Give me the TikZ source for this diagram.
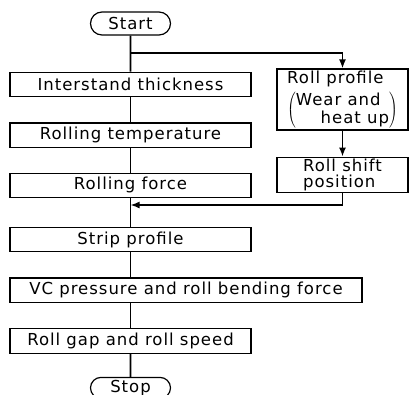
\documentclass[tikz,border=0pt]{standalone}
\usepackage{fontspec}
\setmainfont{DejaVu Sans}[LetterSpace=6]
\usepackage{tikz}
\usetikzlibrary{arrows.meta,positioning,shapes.misc}

\begin{document}
\begin{tikzpicture}[
  stepbox/.style={draw, line width=1.2pt, minimum width=241pt, minimum height=24.5pt, inner sep=0pt, font=\fontsize{16.5}{19}\selectfont},
  endbox/.style={draw, line width=1.2pt, rounded rectangle, minimum width=80pt, minimum height=23pt, inner sep=0pt, font=\fontsize{16.5}{19}\selectfont},
  sidebox/.style={draw, line width=1.2pt, minimum width=131pt, align=left, inner sep=1.5pt, font=\fontsize{16.5}{16.5}\selectfont},
  flow/.style={line width=1.6pt},
  arrow/.style={flow, -{Latex[length=9pt,width=7pt]}},
]
\useasboundingbox (0,0) rectangle (410pt,-394pt);

% main column
\node[endbox] (start) at (130.5pt,-23.5pt) {Start};
\node[stepbox, below=36pt of start] (thick) {Interstand thickness};
\node[stepbox, below=25pt of thick] (temp) {Rolling temperature};
\node[stepbox, below=24.5pt of temp] (force) {Rolling force};
\node[stepbox, below=28.5pt of force] (strip) {Strip profile};
\node[stepbox, minimum width=352pt, below=25pt of strip.south west, anchor=north west] (vc) {VC pressure and roll bending force};
\node[stepbox, below=25pt of vc.south west, anchor=north west] (gap) {Roll gap and roll speed};
\node[endbox, minimum height=21pt, below=23pt of gap] (stop) {Stop};

% side column
\node[sidebox, minimum height=61pt] (profile) at (342.5pt,-99.5pt)
  {Roll profile\\[5pt]$\left(\begin{tabular}{@{}l@{}}Wear and\\\hspace{1.5em}heat up\end{tabular}\right)$};
\node[sidebox, minimum height=35pt, below=26pt of profile] (shift) {Roll shift\\position};

\coordinate (fork) at (130.5pt,-53pt);
\coordinate (merge) at (130.5pt,-205pt);

\draw[flow] (start) -- (thick);
\draw[flow] (thick) -- (temp);
\draw[flow] (temp) -- (force);
\draw[flow] (force) -- (strip);
\draw[flow] (strip) -- (strip |- vc.north);
\draw[flow] (gap |- vc.south) -- (gap);
\draw[flow] (gap) -- (stop);
\draw[arrow] (fork) -| (profile);
\draw[arrow] (profile) -- (shift);
\draw[arrow] (shift) |- (merge);

\end{tikzpicture}
\end{document}
